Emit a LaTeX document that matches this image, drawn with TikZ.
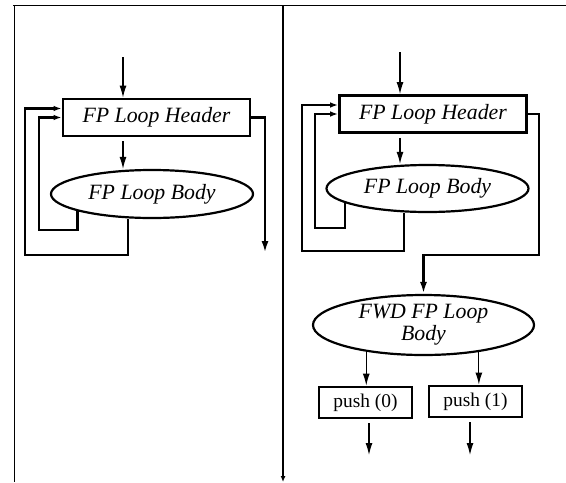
\documentclass[tikz,border=0pt]{standalone}
\usepackage{fontspec}
\setmainfont{Liberation Serif}
\usetikzlibrary{shapes.geometric,arrows.meta}

\tikzset{
  hdrbox/.style={draw, line width=1.4pt, minimum width=93.5pt, minimum height=18.5pt,
                 inner sep=0pt, font=\fontsize{10.9}{12}\selectfont\itshape},
  bodyshape/.style={ellipse, draw, line width=1.1pt, inner sep=0pt,
                    font=\fontsize{10.9}{11.2}\selectfont\itshape, align=center},
  pushbox/.style={draw, line width=1.4pt, minimum width=46.5pt, minimum height=15.5pt,
                  inner sep=0pt, font=\fontsize{9.7}{11}\selectfont},
  flow/.style={line width=0.6pt, -{Latex[length=6pt,width=3.5pt]}},
  back/.style={line width=1.2pt, -{Latex[length=4pt,width=2.8pt]}},
  exitline/.style={line width=1.2pt, -{Latex[length=6pt,width=3.5pt]}},
  frame/.style={line width=0.5pt}
}

\begin{document}
\begin{tikzpicture}[x=0.5pt, y=-0.5pt]

  \useasboundingbox (0,0) rectangle (566,482);

  %% Rahmen und Trennlinie
  \draw[frame] (13,5) -- (566,5);
  \draw[frame] (14,5) -- (14,482);
  \draw[line width=1pt, -{Latex[length=3pt,width=2.5pt]}] (283,5) -- (283,482);

  %% linke Seite: urspruengliche Schleife
  \node[hdrbox] (hdrL) at (156.5,117.5) {FP Loop Header};
  \node[bodyshape, minimum width=101pt, minimum height=24pt] (bodyL) at (152,194) {FP Loop Body};

  \coordinate (inL) at (123,57);
  \coordinate (outL) at (265,253);

  \draw[flow] (inL) -- (inL |- hdrL.north);
  \draw[flow, shorten <=2pt] (hdrL.south -| inL) -- (inL |- bodyL.north);

  %% Rueckkanten links
  \draw[back] (bodyL.193) |- (39,230) |- (hdrL.west);
  \draw[back] ([xshift=-12pt]bodyL.south) |- (25,255) |- ([yshift=4.5pt]hdrL.west);

  %% Ausgang links
  \draw[exitline] (hdrL.east) -| (outL);

  %% rechte Seite: mit FWD-Schleife
  \node[hdrbox] (hdrR) at (433,114) {FP Loop Header};
  \node[bodyshape, minimum width=101pt, minimum height=23.5pt] (bodyR) at (427.5,188.5) {FP Loop Body};
  \node[bodyshape, minimum width=110.5pt, minimum height=30pt] (fwd) at (423.5,325) {FWD FP Loop\\Body};
  \node[pushbox] (push0) at (365.5,402.5) {push (0)};
  \node[pushbox] (push1) at (475.5,401.5) {push (1)};

  \coordinate (inR) at (400,52);
  \coordinate (turnR) at (539,255);
  \coordinate (out0) at (369,455);
  \coordinate (out1) at (470,455);

  \draw[flow] (inR) -- (inR |- hdrR.north);
  \draw[flow, shorten <=2pt] (hdrR.south -| inR) -- (inR |- bodyR.north);

  %% Rueckkanten rechts
  \draw[back] (bodyR.190) |- (315,228) |- (hdrR.west);
  \draw[back] ([xshift=-11.75pt]bodyR.south) |- (302,251) |- ([yshift=4.5pt]hdrR.west);

  %% Ausgang rechts in den FWD-Koerper
  \draw[exitline] (hdrR.east) -| (turnR) -| (fwd.north);

  %% push-Knoten
  \draw[flow] (fwd.205) -- (fwd.205 |- push0.north);
  \draw[flow] (fwd.334) -- (fwd.334 |- push1.north);
  \draw[flow, shorten <=2pt] (out0 |- push0.south) -- (out0);
  \draw[flow, shorten <=2pt] (out1 |- push1.south) -- (out1);

\end{tikzpicture}
\end{document}
